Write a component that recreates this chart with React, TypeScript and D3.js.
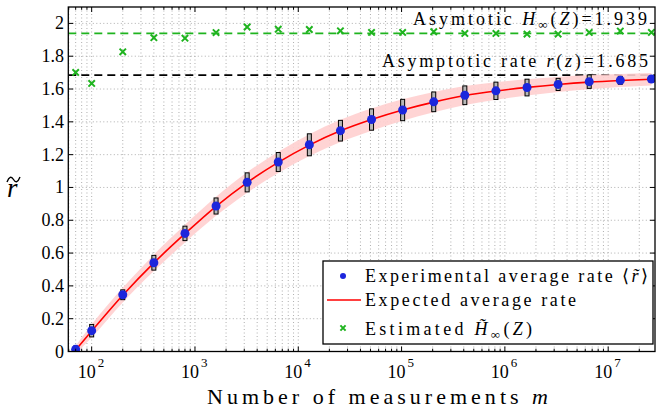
import React from 'react';
import * as d3 from 'd3';

// number of measurements m (x positions of all series)
const measurements = [70, 100, 200, 400, 800, 1600, 3200, 6400, 12800, 25600, 51200, 102400, 204800, 409600, 819200, 1638400, 3276800, 6553600, 13107200, 26214400];
// experimental average rate <r~>
const avgRate = [0.013, 0.127, 0.346, 0.541, 0.72, 0.887, 1.031, 1.155, 1.26, 1.346, 1.414, 1.472, 1.522, 1.562, 1.589, 1.609, 1.628, 1.645, 1.653, 1.661];
// half height of the box around each experimental point
const avgSpread = [0.02, 0.038, 0.03, 0.045, 0.044, 0.049, 0.058, 0.058, 0.067, 0.063, 0.065, 0.065, 0.06, 0.057, 0.053, 0.051, 0.037, 0.041, 0.024, 0.018];
// expected average rate and its band
const expectedRate = [0.01, 0.125, 0.343, 0.54, 0.718, 0.885, 1.03, 1.153, 1.258, 1.345, 1.414, 1.472, 1.52, 1.56, 1.588, 1.61, 1.628, 1.642, 1.652, 1.66];
const expectedBand = [0.025, 0.04, 0.045, 0.05, 0.054, 0.058, 0.062, 0.065, 0.067, 0.068, 0.068, 0.066, 0.062, 0.058, 0.054, 0.05, 0.046, 0.043, 0.04, 0.038];
// estimated H~inf(Z)
const estimatedH = [1.701, 1.634, 1.827, 1.913, 1.91, 1.944, 1.978, 1.965, 1.963, 1.955, 1.945, 1.945, 1.949, 1.939, 1.939, 1.935, 1.935, 1.945, 1.953, 1.945];

const asymptoticH = 1.939;
const asymptoticRate = 1.685;

const yTicks = [0, 0.2, 0.4, 0.6, 0.8, 1, 1.2, 1.4, 1.6, 1.8, 2];
const xDecades = [2, 3, 4, 5, 6, 7];

const W = 656;
const H = 411;
const FONT = "'Liberation Serif', 'DejaVu Serif', serif";
const BLUE = '#1c26dc';
const GREEN = '#1fb41f';

const tildePath = (x0: number, y0: number, w: number, h: number) =>
  `M${x0},${y0 + h} Q${x0 + w / 4},${y0 - h * 0.6} ${x0 + w / 2},${y0 + h / 2} T${x0 + w},${y0}`;

export default function App() {
  const x = d3.scaleLog().domain([59.4, 2.84e7]).range([68.3, 655]);
  const y = d3.scaleLinear().domain([0, 2.1]).range([351.5, 7]);
  const [x0, x1] = x.range();
  const [yb, yt] = y.range();

  const xTicks = x.ticks();
  const isMajor = (v: number) => Math.abs(Math.log10(v) - Math.round(Math.log10(v))) < 1e-9;

  const line = d3.line<number>()
    .x((_, i) => x(measurements[i]))
    .y(d => y(d))
    .curve(d3.curveMonotoneX);

  const band = d3.area<number>()
    .x((_, i) => x(measurements[i]))
    .y0((d, i) => y(d - expectedBand[i]))
    .y1((d, i) => y(d + expectedBand[i]))
    .curve(d3.curveMonotoneX);

  const cross = (cx: number, cy: number, s: number, key: string) => (
    <path key={key} d={`M${cx - s},${cy - s}L${cx + s},${cy + s}M${cx - s},${cy + s}L${cx + s},${cy - s}`}
      stroke={GREEN} strokeWidth={2} fill="none" />
  );

  return (
    <svg width={W} height={H} style={{ position: 'absolute', left: 0, top: 0, background: '#fff', fontFamily: FONT }}>
      <defs>
        <clipPath id="plot">
          <rect x={x0} y={yt} width={x1 - x0} height={yb - yt} />
        </clipPath>
      </defs>

      {/* grid */}
      <g stroke="#9a9a9a" strokeWidth={0.8} strokeDasharray="1,2.5">
        {yTicks.map(v => (
          <line key={'gy' + v} x1={x0} x2={x1} y1={y(v)} y2={y(v)} />
        ))}
        {xTicks.map(v => (
          <line key={'gx' + v} x1={x(v)} x2={x(v)} y1={yt} y2={yb} />
        ))}
      </g>

      <g clipPath="url(#plot)">
        {/* asymptotes */}
        <line x1={x0} x2={x1} y1={y(asymptoticH)} y2={y(asymptoticH)} stroke={GREEN} strokeWidth={1.6} strokeDasharray="8,5" />
        <line x1={x0} x2={x1} y1={y(asymptoticRate)} y2={y(asymptoticRate)} stroke="#000" strokeWidth={1.6} strokeDasharray="8,5" />

        {/* expected band and line */}
        <path d={band(expectedRate) || ''} fill="#ffcfcf" opacity={0.9} />
        <path d={line(expectedRate) || ''} fill="none" stroke="#ff0000" strokeWidth={1.6} />

        {/* experimental boxes */}
        {avgRate.map((v, i) => (
          <rect key={'b' + i} x={x(measurements[i]) - 2} width={4}
            y={y(v + avgSpread[i])} height={y(v - avgSpread[i]) - y(v + avgSpread[i])}
            fill="#b8b8b8" stroke="#000" strokeWidth={1} />
        ))}
        {avgRate.map((v, i) => (
          <circle key={'c' + i} cx={x(measurements[i])} cy={y(v)} r={4.5} fill={BLUE} />
        ))}

        {/* estimated H */}
        {estimatedH.map((v, i) => cross(x(measurements[i]), y(v), 3.2, 'x' + i))}
      </g>

      {/* annotations */}
      <text x={647} y={25} textAnchor="end" fontSize={18} textLength={234} lengthAdjust="spacing">
        Asymtotic <tspan fontStyle="italic">H</tspan>
        <tspan fontSize={13} dy={4}>∞</tspan>
        <tspan dy={-4}>(</tspan><tspan fontStyle="italic">Z</tspan>)=1.939
      </text>
      <text x={648} y={67} textAnchor="end" fontSize={18} textLength={266} lengthAdjust="spacing">
        Asymptotic rate <tspan fontStyle="italic">r</tspan>(<tspan fontStyle="italic">z</tspan>)=1.685
      </text>

      {/* axes box and ticks */}
      <rect x={x0} y={yt} width={x1 - x0} height={yb - yt} fill="none" stroke="#000" strokeWidth={1.3} />
      <g stroke="#000" strokeWidth={1}>
        {yTicks.map(v => (
          <g key={'ty' + v}>
            <line x1={x0} x2={x0 + 5} y1={y(v)} y2={y(v)} />
            <line x1={x1 - 5} x2={x1} y1={y(v)} y2={y(v)} />
          </g>
        ))}
        {xTicks.map(v => {
          const len = isMajor(v) ? 5 : 2.8;
          return (
            <g key={'tx' + v}>
              <line x1={x(v)} x2={x(v)} y1={yb} y2={yb - len} />
              <line x1={x(v)} x2={x(v)} y1={yt} y2={yt + len} />
            </g>
          );
        })}
      </g>

      {/* tick labels */}
      <g fontSize={18} fill="#000">
        {yTicks.map(v => (
          <text key={'ly' + v} x={64} y={y(v) + 6} textAnchor="end">{String(v)}</text>
        ))}
        {xDecades.map(e => (
          <g key={'lx' + e}>
            <text x={x(Math.pow(10, e)) + 4} y={378} textAnchor="end">10</text>
            <text x={x(Math.pow(10, e)) + 6} y={367} fontSize={13}>{e}</text>
          </g>
        ))}
      </g>

      {/* axis labels */}
      <text x={207} y={404} fontSize={22} textLength={341} lengthAdjust="spacing">
        Number of measurements <tspan fontStyle="italic">m</tspan>
      </text>
      <text x={7} y={197} fontSize={27} fontStyle="italic">r</text>
      <path d={tildePath(7, 177, 13, 5)} fill="none" stroke="#000" strokeWidth={1.4} />

      {/* legend */}
      <g>
        <rect x={323} y={261} width={330} height={83} fill="#fff" stroke="#000" strokeWidth={1.3} />
        <circle cx={343} cy={276} r={3} fill={BLUE} />
        <text x={365} y={282} fontSize={18} textLength={283} lengthAdjust="spacing">
          Experimental average rate ⟨<tspan fontStyle="italic">r̃</tspan>⟩
        </text>
        <line x1={327} x2={361} y1={300} y2={300} stroke="#ff0000" strokeWidth={1.6} />
        <text x={365} y={306} fontSize={18} textLength={211} lengthAdjust="spacing">
          Expected average rate
        </text>
        {cross(343, 328, 2.6, 'legx')}
        <text x={365} y={335} fontSize={18} textLength={167} lengthAdjust="spacing">
          Estimated <tspan fontStyle="italic">H̃</tspan><tspan fontSize={13} dy={4}>∞</tspan><tspan dy={-4}>(</tspan><tspan fontStyle="italic">Z</tspan>)
        </text>
      </g>
    </svg>
  );
}
